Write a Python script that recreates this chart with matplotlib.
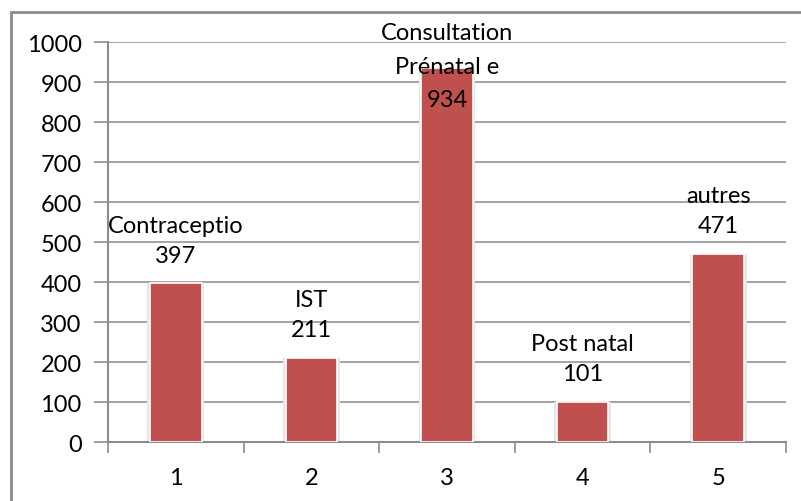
import matplotlib.pyplot as plt
from matplotlib.patches import Rectangle
from matplotlib.ticker import MultipleLocator

plt.rcParams['font.family'] = ['Lato', 'DejaVu Sans']

# donnees
categories = [1, 2, 3, 4, 5]
noms = ['Contraceptio', 'IST', 'Consultation', 'Post natal', 'autres']
noms_ligne2 = ['', '', 'Prénatal e', '', '']
valeurs = [397, 211, 934, 101, 471]

bar_color = '#C0504D'
grid_color = '#8C8C8C'
fs = 17

fig = plt.figure(figsize=(8.01, 5.02), dpi=100)
ax = fig.add_axes([0.1348, 0.1175, 0.8465, 0.7968])

# ombre legere puis barres
ax.bar(categories, valeurs, width=0.42, color='#E6E6E6', zorder=2)
ax.bar(categories, valeurs, width=0.38, color=bar_color,
       edgecolor='white', linewidth=1.2, zorder=3)

ax.set_xlim(0.5, 5.5)
ax.set_ylim(0, 1000)
ax.yaxis.set_major_locator(MultipleLocator(100))
ax.grid(axis='y', color=grid_color, linewidth=1.1, zorder=1)

# ticks a la frontiere des categories, libelles au centre
ax.set_xticks([c - 0.5 for c in categories] + [categories[-1] + 0.5])
ax.set_xticklabels([])
ax.set_xticks(categories, minor=True)
ax.set_xticklabels([str(c) for c in categories], minor=True)
ax.tick_params(axis='x', which='major', length=8, color=grid_color, width=1.2)
ax.tick_params(axis='x', which='minor', length=0, pad=18, labelsize=fs)
ax.tick_params(axis='y', length=10, color=grid_color, width=1.2, pad=9, labelsize=fs)

for s in ['top', 'right']:
    ax.spines[s].set_visible(False)
for s in ['left', 'bottom']:
    ax.spines[s].set_color(grid_color)
    ax.spines[s].set_linewidth(1.5)

# etiquettes de donnees (la 3e est poussee vers le bas comme dans Excel)
decalage = [0, 0, -59, 0, 0]
for i, (c, v) in enumerate(zip(categories, valeurs)):
    d = decalage[i]
    ax.annotate(str(v), (c, v), xytext=(0, 28 + d), textcoords='offset pixels',
                ha='center', va='center', fontsize=fs, zorder=5)
    if noms_ligne2[i]:
        ax.annotate(noms_ligne2[i], (c, v), xytext=(0, 61 + d),
                    textcoords='offset pixels', ha='center', va='center',
                    fontsize=fs, zorder=5, annotation_clip=False)
        ax.annotate(noms[i], (c, v), xytext=(0, 95 + d),
                    textcoords='offset pixels', ha='center', va='center',
                    fontsize=fs, zorder=5, annotation_clip=False)
    else:
        ax.annotate(noms[i], (c, v), xytext=(0, 58 + d),
                    textcoords='offset pixels', ha='center', va='center',
                    fontsize=fs, zorder=5, annotation_clip=False)

# cadre du graphique (seuls haut et gauche visibles)
fig.patches.append(Rectangle((11 / 801, -0.1), 1.2, 1.1 - 13 / 502,
                             transform=fig.transFigure, fill=False,
                             edgecolor='#8C8C8C', linewidth=2))

fig.savefig('out.png', dpi=100)
